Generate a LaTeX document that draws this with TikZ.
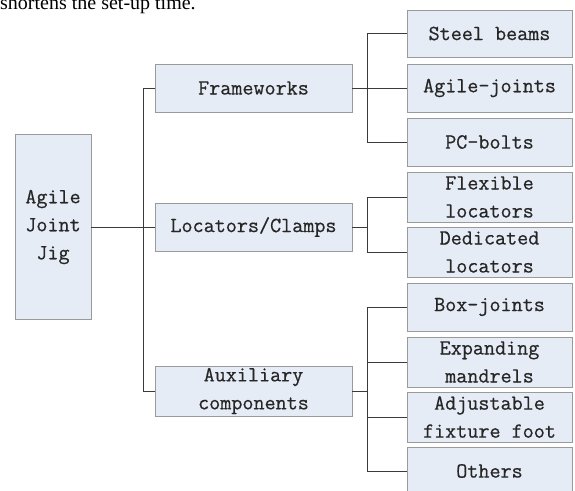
\documentclass[tikz,border=0pt]{standalone}
\usepackage{fontspec}
\newfontfamily\dfont[FakeBold=0.6]{Latin Modern Mono}
\newfontfamily\tfont{Liberation Serif}
\definecolor{boxfill}{HTML}{E6ECF6}
\definecolor{boxline}{HTML}{9A9A9A}
\definecolor{linecol}{HTML}{3A3A3A}
\begin{document}
\begin{tikzpicture}[x=1pt,y=-1pt,
  box/.style={draw=boxline, fill=boxfill, line width=0.9pt, inner sep=0pt, align=center,
    font=\dfont\fontsize{21.5}{28}\selectfont, text=black!85},
  conn/.style={draw=linecol, line width=1pt}]
\useasboundingbox (0,0) rectangle (575,490);
\clip (0,0) rectangle (575,490);
\node[anchor=base west, font=\tfont\fontsize{20}{24}\selectfont, inner sep=0pt] (cap) at (0,9) {shortens the set-up time.};
% root
\node[box, minimum width=76pt, minimum height=185pt] (root) at (53,227) {Agile\\Joint\\Jig};
% level 1
\node[box, minimum width=197pt, minimum height=48pt] (fw) at (253.5,88) {Frameworks};
\node[box, minimum width=197pt, minimum height=48pt] (loc) at (253.5,227) {Locators/Clamps};
\node[box, minimum width=197pt, minimum height=50pt] (aux) at (253.5,391) {Auxiliary\\components};
% level 2
\node[box, minimum width=165pt, minimum height=47pt] (sb) at (489.5,33.5) {Steel beams};
\node[box, minimum width=165pt, minimum height=48pt] (aj) at (489.5,88) {Agile-joints};
\node[box, minimum width=165pt, minimum height=48pt] (pc) at (489.5,142) {PC-bolts};
\node[box, minimum width=165pt, minimum height=50pt] (fl) at (489.5,197) {Flexible\\locators};
\node[box, minimum width=165pt, minimum height=50pt] (dl) at (489.5,252) {Dedicated\\locators};
\node[box, minimum width=165pt, minimum height=48pt] (bj) at (489.5,307) {Box-joints};
\node[box, minimum width=165pt, minimum height=50pt] (em) at (489.5,362) {Expanding\\mandrels};
\node[box, minimum width=165pt, minimum height=50pt] (af) at (489.5,417) {Adjustable\\fixture foot};
\node[box, minimum width=165pt, minimum height=48pt] (ot) at (489.5,471) {Others};
\coordinate (tx) at (143,0);
\coordinate (bx) at (367,0);
% connectors
\draw[conn] (root.east) -- (loc.west);
\draw[conn] (fw.west) -- (fw.west -| tx) -- (aux.west -| tx) -- (aux.west);
\draw[conn] (fw.east) -- (aj.west);
\draw[conn] (sb.west) -- (sb.west -| bx) -- (pc.west -| bx) -- (pc.west);
\draw[conn] (loc.east) -- (loc.east -| bx);
\draw[conn] (fl.west) -- (fl.west -| bx) -- (dl.west -| bx) -- (dl.west);
\draw[conn] (aux.east) -- (aux.east -| bx);
\draw[conn] (bj.west) -- (bj.west -| bx) -- (ot.west -| bx) -- (ot.west);
\draw[conn] (em.west) -- (em.west -| bx);
\draw[conn] (af.west) -- (af.west -| bx);
\end{tikzpicture}
\end{document}
